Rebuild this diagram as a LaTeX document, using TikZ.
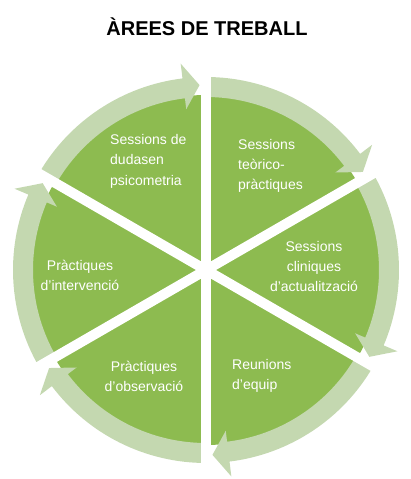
\documentclass[tikz,border=0pt]{standalone}
\usepackage{fontspec}
\setmainfont{Liberation Sans}
\definecolor{dkgreen}{RGB}{141,187,80}
\definecolor{ltgreen}{RGB}{196,216,176}
\tikzset{
  lbl/.style={text=white, font=\fontsize{14}{20}\selectfont, inner sep=0pt},
  ringarrow/.style={fill=ltgreen},
  gapline/.style={draw=white, line width=10}
}
\begin{document}
\begin{tikzpicture}[x=1pt,y=1pt]
\useasboundingbox (0,0) rectangle (410,479);
\begin{scope}[shift={(206,209)}]
  \fill[dkgreen] (0,0) circle[radius=175];
  \foreach \a in {90,30,-30,-90,-150,-210} {
    \pgfmathsetmacro\b{\a-60}
    \pgfmathsetmacro\h{\b+7}
    \pgfmathsetmacro\t{\b+2}
    \path[ringarrow] (\a:193) arc[start angle=\a, end angle=\h, radius=193]
      -- (\h:208) -- (\t:185) -- (\h:162) -- (\h:173)
      arc[start angle=\h, end angle=\a, radius=173] -- cycle;
  }
  \coordinate (c) at (0,0);
  \foreach \a in {90,30,-30,-90,-150,150} {
    \coordinate (e\a) at (\a:215);
    \draw[gapline] (c) -- (e\a);
  }
\end{scope}
\node[font=\fontsize{20}{24}\selectfont\bfseries, anchor=base, inner sep=0pt] (title) at (207,443) {ÀREES DE TREBALL};
\node[lbl, font=\fontsize{14}{20.5}\selectfont, align=left, anchor=base west] (t1) at (110,293.5) {Sessions de\\dudasen\\psicometria};
\node[lbl, align=left, anchor=base west] (t2) at (238,289) {Sessions\\teòrico-\\pràctiques};
\node[lbl, align=center, anchor=base] (t3) at (314,187) {Sessions\\cliniques\\d’actualització};
\node[lbl, align=left, anchor=base west] (t4) at (232,89) {Reunions\\d’equip};
\node[lbl, align=center, anchor=base] (t5) at (144,87) {Pràctiques\\d’observació};
\node[lbl, align=center, anchor=base] (t6) at (80,188) {Pràctiques\\d’intervenció};
\end{tikzpicture}
\end{document}
